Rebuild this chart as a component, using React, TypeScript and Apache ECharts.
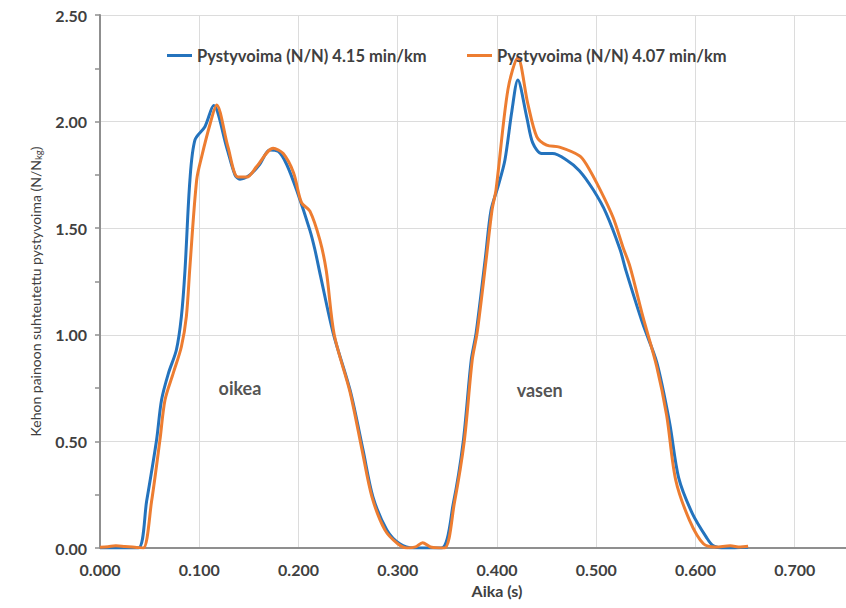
import React, { useEffect, useRef } from "react";
import * as echarts from "echarts";

const seriesNames = ["Pystyvoima (N/N) 4.15 min/km", "Pystyvoima (N/N) 4.07 min/km"];

const blueData: [number, number][] = [
  [0, 0], [0.02, 0], [0.0386, 0], [0.047, 0.22], [0.057, 0.507], [0.062, 0.694], [0.069, 0.82],
  [0.077, 0.93], [0.082, 1.085], [0.0856, 1.3], [0.0906, 1.726], [0.0957, 1.914], [0.1057, 1.976],
  [0.1145, 2.075], [0.1276, 1.88], [0.136, 1.75], [0.141, 1.73], [0.151, 1.75], [0.161, 1.8],
  [0.171, 1.867], [0.1796, 1.86], [0.188, 1.8], [0.198, 1.68], [0.2115, 1.49], [0.2165, 1.4],
  [0.222, 1.28], [0.235, 1.007], [0.252, 0.74], [0.265, 0.46], [0.275, 0.24], [0.289, 0.085],
  [0.302, 0.02], [0.316, 0], [0.344, 0], [0.356, 0.21], [0.366, 0.5], [0.374, 0.88], [0.379, 1.01],
  [0.388, 1.35], [0.394, 1.585], [0.401, 1.695], [0.408, 1.82], [0.415, 2.05], [0.421, 2.195],
  [0.43, 2.02], [0.436, 1.9], [0.445, 1.85], [0.456, 1.85], [0.47, 1.82], [0.483, 1.77],
  [0.497, 1.68], [0.51, 1.57], [0.524, 1.4], [0.53, 1.3], [0.547, 1.05], [0.561, 0.87],
  [0.574, 0.585], [0.583, 0.33], [0.597, 0.16], [0.611, 0.05], [0.618, 0.01], [0.63, 0], [0.653, 0.004],
];

const orangeData: [number, number][] = [
  [0, 0.004], [0.008, 0.006], [0.016, 0.01], [0.025, 0.007], [0.035, 0.004], [0.0436, 0],
  [0.052, 0.22], [0.0604, 0.507], [0.0655, 0.694], [0.0738, 0.82], [0.082, 0.944], [0.087, 1.085],
  [0.0906, 1.32], [0.0974, 1.726], [0.1024, 1.835], [0.111, 1.99], [0.1175, 2.078], [0.129, 1.88],
  [0.139, 1.74], [0.148, 1.74], [0.158, 1.79], [0.1745, 1.875], [0.1846, 1.85], [0.195, 1.76],
  [0.203, 1.62], [0.2115, 1.58], [0.2215, 1.445], [0.228, 1.3], [0.236, 1.0], [0.252, 0.73],
  [0.264, 0.46], [0.274, 0.24], [0.287, 0.085], [0.3, 0.02], [0.31, 0], [0.318, 0.005],
  [0.325, 0.025], [0.333, 0.005], [0.347, 0], [0.357, 0.21], [0.367, 0.5], [0.375, 0.88],
  [0.38, 1.01], [0.389, 1.35], [0.395, 1.585], [0.399, 1.68], [0.411, 2.15], [0.421, 2.3],
  [0.431, 2.085], [0.44, 1.93], [0.45, 1.89], [0.463, 1.88], [0.483, 1.84], [0.49, 1.8],
  [0.504, 1.68], [0.517, 1.55], [0.527, 1.41], [0.534, 1.32], [0.547, 1.085], [0.561, 0.85],
  [0.571, 0.62], [0.58, 0.32], [0.594, 0.13], [0.608, 0.02], [0.62, 0.005],
  [0.635, 0.01], [0.645, 0.005], [0.653, 0.008],
];

const annotations = [
  { text: "oikea", x: 0.141, y: 0.75 },
  { text: "vasen", x: 0.443, y: 0.74 },
];

const xTitle = "Aika (s)";
const yTitleMain = "Kehon painoon suhteutettu pystyvoima (N/N";
const yTitleSub = "kg";

const FONT = "Lato";
const TXT = "#404040";

export default function App() {
  const ref = useRef<HTMLDivElement>(null);
  useEffect(() => {
    document.body.style.margin = "0";
    if (!ref.current) return;
    const chart = echarts.init(ref.current, undefined, { renderer: "svg" });
    const legendCommon = {
      icon: "rect", itemWidth: 25, itemHeight: 3, top: 42,
      textStyle: { fontFamily: FONT, fontWeight: "bold", fontSize: 16.5, color: TXT },
    };
    const option: any = {
      animation: false,
      backgroundColor: "#ffffff",
      grid: { left: 100, top: 15, bottom: 60, width: 794, outerBoundsMode: "none", containLabel: false },
      legend: [
        { ...legendCommon, data: [seriesNames[0]], left: 162 },
        { ...legendCommon, data: [seriesNames[1]], left: 462 },
      ],
      xAxis: {
        type: "value", min: 0, max: 0.8, interval: 0.1,
        name: xTitle, nameLocation: "middle", nameGap: 34,
        nameTextStyle: { fontFamily: FONT, fontWeight: "bold", fontSize: 16, color: TXT },
        axisLine: { show: true, lineStyle: { color: "#8f8f8f", width: 2 } },
        axisTick: { show: false },
        axisLabel: {
          fontFamily: FONT, fontWeight: "bold", fontSize: 16, color: TXT, margin: 13,
          showMaxLabel: false, formatter: (v: number) => v.toFixed(3),
        },
        splitLine: { show: true, lineStyle: { color: "#dcdcdc", width: 1 } },
      },
      yAxis: {
        type: "value", min: 0, max: 2.5, interval: 0.5,
        name: `{a|${yTitleMain}}{s|${yTitleSub}}{a|)}`,
        nameLocation: "middle", nameGap: 57, nameRotate: 90,
        nameTextStyle: {
          color: TXT,
          padding: [0, 20, 0, 0],
          rich: {
            a: { fontFamily: FONT, fontSize: 14, color: TXT, lineHeight: 16 },
            s: { fontFamily: FONT, fontSize: 9.5, color: TXT, lineHeight: 16, verticalAlign: "bottom", padding: [5, 0, 0, 0] },
          },
        },
        axisLine: { show: true, lineStyle: { color: "#8f8f8f", width: 2 } },
        axisTick: { show: true, inside: false, length: 5, lineStyle: { color: "#8f8f8f", width: 1.5 } },
        minorTick: { show: true, splitNumber: 2, length: 5, lineStyle: { color: "#8f8f8f", width: 1.5 } },
        axisLabel: {
          fontFamily: FONT, fontWeight: "bold", fontSize: 16, color: TXT, margin: 13,
          formatter: (v: number) => v.toFixed(2),
        },
        splitLine: { show: true, lineStyle: { color: "#dcdcdc", width: 1 } },
      },
      series: [
        {
          name: seriesNames[0], type: "line", data: blueData, smooth: 0.3, symbol: "none",
          lineStyle: { color: "#2473bd", width: 3 }, itemStyle: { color: "#2473bd" },
        },
        {
          name: seriesNames[1], type: "line", data: orangeData, smooth: 0.3, symbol: "none",
          lineStyle: { color: "#ed7d31", width: 3 }, itemStyle: { color: "#ed7d31" },
        },
        {
          name: "labels", type: "scatter", symbolSize: 0, silent: true,
          data: annotations.map((a) => ({ value: [a.x, a.y], name: a.text })),
          label: {
            show: true, position: "inside", formatter: (p: any) => p.name,
            fontFamily: FONT, fontWeight: "bold", fontSize: 18, color: "#262626",
          },
        },
      ],
    };
    chart.setOption(option);
    return () => chart.dispose();
  }, []);
  return <div ref={ref} style={{ width: 846, height: 608 }} />;
}
